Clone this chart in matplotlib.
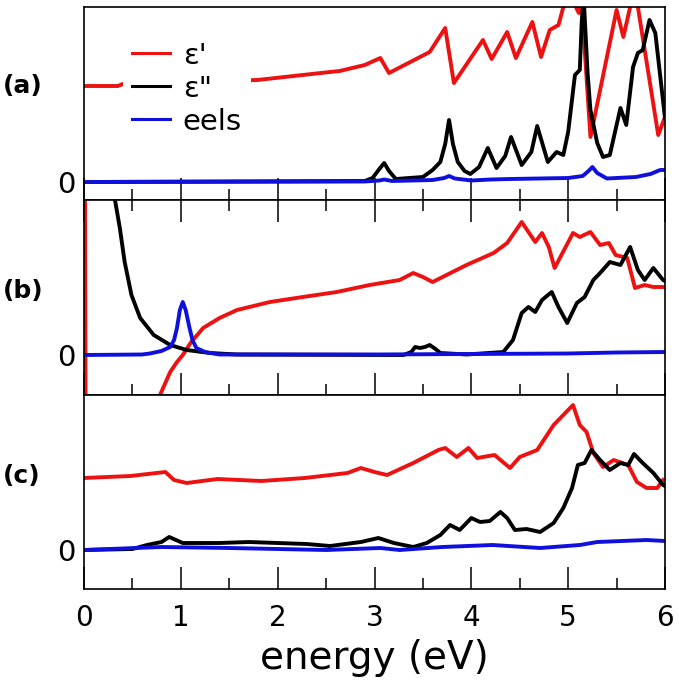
import numpy as np
import matplotlib.pyplot as plt

# panel (a)
a_eps1_E = [0, 0.35, 0.40, 1.0, 1.79, 2.54, 2.64, 2.9, 3.06, 3.15, 3.57, 3.73, 3.82, 4.12, 4.21, 4.37, 4.46,
            4.63, 4.72, 4.81, 4.90, 4.95, 5.02, 5.08, 5.11, 5.14, 5.23, 5.50, 5.57, 5.64, 5.68, 5.72, 5.93, 6.0]
a_eps1 = [9.6, 9.6, 9.8, 10.0, 10.2, 11.0, 11.1, 11.7, 12.4, 10.9, 13.0, 15.4, 9.9, 14.2, 12.3, 15.0, 12.4,
          16.0, 12.5, 15.2, 15.7, 17.5, 19.0, 17.5, 16.9, 17.8, 4.5, 17.2, 14.5, 17.5, 19.0, 17.5, 4.7, 6.5]
a_eps2_E = [0, 2.9, 2.98, 3.05, 3.1, 3.15, 3.22, 3.5, 3.6, 3.68, 3.73, 3.77, 3.81, 3.86, 3.93, 3.99, 4.08,
            4.17, 4.26, 4.35, 4.41, 4.52, 4.62, 4.68, 4.79, 4.88, 4.95, 5.0, 5.07, 5.12, 5.14, 5.16, 5.2, 5.23,
            5.3, 5.36, 5.43, 5.54, 5.6, 5.67, 5.72, 5.77, 5.84, 5.9, 6.0]
a_eps2 = [0, 0.1, 0.4, 1.3, 1.9, 1.1, 0.3, 0.5, 1.2, 2.0, 3.8, 6.2, 3.8, 2.0, 1.1, 0.8, 1.5,
          3.4, 1.4, 2.6, 4.5, 1.7, 3.0, 5.6, 2.0, 3.0, 2.7, 5.0, 10.7, 11.2, 16.0, 18.5, 11.0, 7.2,
          3.9, 2.5, 2.7, 7.4, 5.7, 11.5, 12.9, 13.2, 16.2, 14.9, 6.4]
a_eels_E = [0, 2.9, 3.05, 3.1, 3.18, 3.6, 3.72, 3.77, 3.83, 4.0, 4.2, 4.4, 4.7, 5.0, 5.15, 5.21, 5.25, 5.3,
            5.4, 5.7, 5.85, 5.95, 6.0]
a_eels = [0, 0.05, 0.15, 0.25, 0.1, 0.2, 0.4, 0.6, 0.35, 0.15, 0.25, 0.3, 0.35, 0.4, 0.6, 1.1, 1.5, 0.9,
          0.35, 0.5, 0.8, 1.2, 1.2]

# panel (b)
b_eps1_E = [0.01, 0.02, 0.5, 0.785, 0.89, 0.96, 1.02, 1.1, 1.23, 1.4, 1.58, 1.92, 2.26, 2.61, 2.95, 3.26,
            3.40, 3.5, 3.6, 3.95, 4.23, 4.37, 4.52, 4.66, 4.73, 4.8, 4.86, 5.05, 5.12, 5.23, 5.33, 5.42,
            5.49, 5.61, 5.69, 5.79, 5.88, 6.0]
b_eps1 = [20, -20, -15, -4.0, -1.7, -0.7, 0, 1.2, 2.7, 3.7, 4.5, 5.3, 5.8, 6.3, 7.0, 7.5,
          8.2, 7.8, 7.3, 9.0, 10.2, 11.2, 13.3, 11.3, 12.2, 10.8, 8.7, 12.2, 11.8, 12.3, 11.0, 11.2,
          10.0, 9.7, 6.7, 7.0, 6.8, 6.8]
b_eps2_E = [0.30, 0.32, 0.37, 0.42, 0.49, 0.58, 0.72, 0.89, 1.06, 1.3, 1.58, 3.3, 3.38, 3.42, 3.47, 3.52,
            3.57, 3.63, 3.68, 3.95, 4.33, 4.43, 4.52, 4.59, 4.66, 4.73, 4.83, 4.9, 4.99, 5.09, 5.17, 5.26,
            5.33, 5.43, 5.54, 5.64, 5.72, 5.79, 5.88, 5.98, 6.0]
b_eps2 = [20, 15.5, 12.7, 9.3, 6.0, 3.7, 2.0, 1.0, 0.5, 0.2, 0.05, 0.0, 0.3, 0.8, 0.7, 0.8,
          1.0, 0.6, 0.2, 0.05, 0.3, 1.5, 4.2, 4.8, 4.3, 5.5, 6.3, 4.8, 3.2, 5.2, 5.8, 7.5,
          8.2, 9.3, 9.0, 10.8, 8.5, 7.5, 8.7, 7.5, 7.4]
b_eels_E = [0, 0.6, 0.68, 0.8, 0.89, 0.93, 0.96, 0.99, 1.02, 1.05, 1.09, 1.12, 1.16, 1.25, 1.4, 3.0, 4.0,
            5.0, 5.5, 6.0]
b_eels = [0, 0.05, 0.15, 0.4, 0.8, 1.5, 2.7, 4.5, 5.3, 4.5, 2.7, 1.5, 0.7, 0.3, 0.05, 0.05, 0.1,
          0.15, 0.25, 0.3]

# panel (c)
c_eps1_E = [0, 0.48, 0.84, 0.93, 1.06, 1.38, 1.83, 2.28, 2.72, 2.86, 3.0, 3.13, 3.4, 3.66, 3.73, 3.85,
            3.97, 4.06, 4.24, 4.40, 4.50, 4.68, 4.85, 5.05, 5.12, 5.19, 5.26, 5.36, 5.47, 5.62, 5.71, 5.81,
            5.92, 5.98]
c_eps1 = [7.2, 7.4, 7.8, 7.0, 6.7, 7.1, 6.9, 7.2, 7.7, 8.2, 7.8, 7.5, 8.7, 10.0, 10.2, 9.3,
          10.2, 9.2, 9.5, 8.2, 9.3, 10.0, 12.5, 14.5, 12.5, 11.8, 9.7, 8.3, 9.0, 8.5, 6.8, 6.2,
          6.2, 7.0]
c_eps2_E = [0, 0.5, 0.65, 0.8, 0.88, 1.02, 1.4, 1.7, 2.0, 2.3, 2.54, 2.86, 3.04, 3.2, 3.4, 3.54, 3.68,
            3.78, 3.88, 4.0, 4.09, 4.19, 4.30, 4.37, 4.45, 4.57, 4.71, 4.85, 4.95, 5.04, 5.1, 5.17, 5.24,
            5.33, 5.43, 5.54, 5.62, 5.68, 5.77, 5.88, 5.98, 6.0]
c_eps2 = [0, 0.1, 0.5, 0.8, 1.3, 0.7, 0.7, 0.8, 0.7, 0.6, 0.4, 0.8, 1.2, 0.7, 0.3, 0.7, 1.5,
          2.5, 2.0, 3.2, 2.8, 2.9, 3.8, 3.2, 2.0, 2.1, 1.8, 2.7, 4.2, 6.2, 8.5, 8.7, 10.0,
          9.0, 8.0, 8.7, 8.5, 9.6, 8.7, 7.7, 6.5, 6.4]
c_eels_E = [0, 0.8, 1.5, 2.5, 3.06, 3.26, 3.7, 4.22, 4.71, 5.12, 5.3, 5.81, 6.0]
c_eels = [0, 0.3, 0.2, 0.0, 0.2, 0.0, 0.3, 0.5, 0.2, 0.5, 0.8, 1.0, 0.9]

panel_names = ['(a)', '(b)', '(c)']
legend_labels = ["\u03b5'", '\u03b5"', 'eels']
xticks = [0, 1, 2, 3, 4, 5, 6]

plt.rcParams['font.family'] = 'DejaVu Sans'

W, H = 679, 685
fig = plt.figure(figsize=(W / 100, H / 100), dpi=100)

# pixel boxes (top, bottom) of the panels
rows = [(7, 200), (200, 395), (395, 589)]
ylims = [(-1.8, 17.5), (-4.0, 15.5), (-3.9, 15.5)]
label_y = [86, 291, 476]
x0, x1 = 84, 665

data = [
    (a_eps1_E, a_eps1, a_eps2_E, a_eps2, a_eels_E, a_eels),
    (b_eps1_E, b_eps1, b_eps2_E, b_eps2, b_eels_E, b_eels),
    (c_eps1_E, c_eps1, c_eps2_E, c_eps2, c_eels_E, c_eels),
]

axes = []
for i, (top, bot) in enumerate(rows):
    ax = fig.add_axes([x0 / W, 1 - bot / H, (x1 - x0) / W, (bot - top) / H])
    e1x, e1, e2x, e2, elx, el = data[i]
    ax.plot(e1x, e1, color='#ee1111', lw=2.8, label=legend_labels[0])
    ax.plot(e2x, e2, color='black', lw=2.8, label=legend_labels[1])
    ax.plot(elx, el, color='#1010dd', lw=2.8, label=legend_labels[2])
    ax.set_xlim(0, 6)
    ax.set_ylim(*ylims[i])
    ax.set_xticks(xticks)
    ax.set_xticks(np.arange(0.5, 6, 1.0), minor=True)
    ax.set_yticks([0])
    ax.set_yticklabels(['0'], fontsize=21)
    ax.tick_params(axis='y', length=0, pad=6)
    ax.tick_params(axis='x', which='major', direction='in', length=16, width=1.1,
                   top=(i == 1), bottom=True)
    ax.tick_params(axis='x', which='minor', direction='in', length=8, width=1.1,
                   top=(i == 1), bottom=True)
    ax.tick_params(axis='x', labelsize=20, pad=11)
    if i < 2:
        ax.tick_params(axis='x', labelbottom=False)
    for s in ax.spines.values():
        s.set_linewidth(1.2)
    fig.text(3 / W, 1 - label_y[i] / H, panel_names[i], fontsize=18, fontweight='bold',
             ha='left', va='center')
    axes.append(ax)

leg = axes[0].legend(loc='upper left', bbox_to_anchor=(0.067, 0.866), fontsize=21,
                     frameon=True, facecolor='white', edgecolor='none', framealpha=1,
                     fancybox=False, handlelength=1.3, handletextpad=0.45,
                     labelspacing=0.17, borderpad=0.3, borderaxespad=0)
for h in leg.get_lines():
    h.set_linewidth(2.2)

axes[2].set_xlabel('energy (eV)', fontsize=28, labelpad=5)

fig.savefig('out.png', dpi=100)
